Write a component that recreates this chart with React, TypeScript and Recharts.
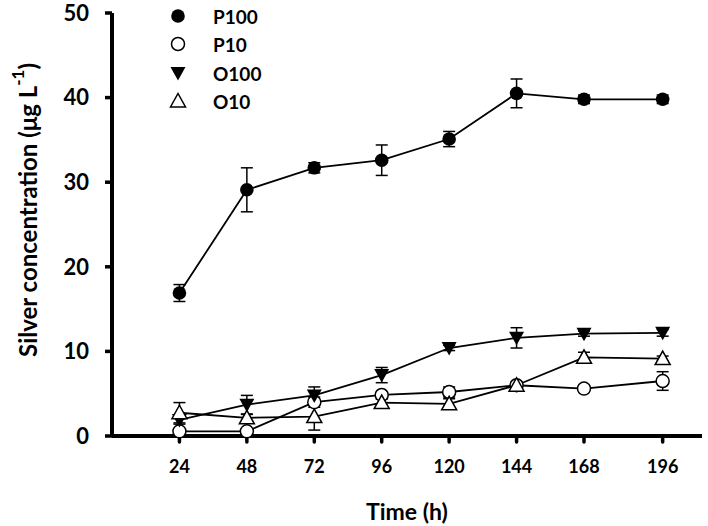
import { LineChart, Line, XAxis, YAxis, ErrorBar, Customized } from 'recharts'

// sampling times (h) and measured silver concentration (µg/L) with error
const hours = [24, 48, 72, 96, 120, 144, 168, 196]
const p100 = [16.9, 29.1, 31.7, 32.6, 35.1, 40.5, 39.8, 39.8]
const p100Err = [1.0, 2.6, 0.6, 1.8, 0.9, 1.7, 0.5, 0.5]
const p10 = [0.55, 0.55, 4.0, 4.85, 5.2, 6.0, 5.6, 6.5]
const p10Err = [0.35, 0.3, 0.6, 0.3, 0.6, 0.4, 0.4, 1.1]
const o100 = [1.9, 3.7, 4.8, 7.2, 10.4, 11.6, 12.1, 12.2]
const o100Err = [0.5, 1.1, 1.0, 0.9, 0.3, 1.2, 0.3, 0.4]
const o10 = [2.75, 2.15, 2.3, 3.95, 3.8, 6.0, 9.3, 9.15]
const o10Err = [1.2, 0.4, 1.6, 0.4, 0.6, 0.3, 0.6, 0.3]

const xTicks = [24, 48, 72, 96, 120, 144, 168, 196]
const yTicks = [0, 10, 20, 30, 40, 50]

const seriesNames = ['P100', 'P10', 'O100', 'O10']

type Shape = 'filledCircle' | 'openCircle' | 'filledDown' | 'openUp'

const SHAPES: Record<string, Shape> = {
  P100: 'filledCircle',
  P10: 'openCircle',
  O100: 'filledDown',
  O10: 'openUp',
}

const data = hours.map((h, i) => ({
  h,
  P100: p100[i],
  P100err: p100Err[i],
  P10: p10[i],
  P10err: p10Err[i],
  O100: o100[i],
  O100err: o100Err[i],
  O10: o10[i],
  O10err: o10Err[i],
}))

const FONT = 'Lato, "Open Sans", sans-serif'

function Marker({ shape, cx, cy }: { shape: Shape; cx: number; cy: number }) {
  if (cx == null || cy == null) return null
  switch (shape) {
    case 'filledCircle':
      return <circle cx={cx} cy={cy} r={6.8} fill="#000" />
    case 'openCircle':
      return <circle cx={cx} cy={cy} r={6.5} fill="#fff" stroke="#000" strokeWidth={1.5} />
    case 'filledDown':
      return (
        <polygon
          points={`${cx - 7.5},${cy - 6} ${cx + 7.5},${cy - 6} ${cx},${cy + 7.5}`}
          fill="#000"
        />
      )
    case 'openUp':
      return (
        <polygon
          points={`${cx - 7.5},${cy + 6} ${cx + 7.5},${cy + 6} ${cx},${cy - 7.5}`}
          fill="#fff"
          stroke="#000"
          strokeWidth={1.5}
        />
      )
  }
}

function YLabel() {
  return (
    <text
      x={27}
      y={210}
      transform="rotate(-90, 27, 210)"
      textAnchor="middle"
      dominantBaseline="central"
      fontFamily={FONT}
      fontWeight={700}
      fontSize={24}
      fill="#000"
    >
      Silver concentration (μg L
      <tspan fontSize={17} dy={-10}>-1</tspan>
      <tspan dy={10}>)</tspan>
    </text>
  )
}

function LegendBox() {
  const rows = [16, 44, 73, 101]
  return (
    <svg
      width={300}
      height={120}
      style={{ position: 'absolute', left: 0, top: 0, pointerEvents: 'none' }}
    >
      {seriesNames.map((name, i) => (
        <g key={name}>
          <Marker shape={SHAPES[name]} cx={178} cy={rows[i]} />
          <text
            x={213}
            y={rows[i]}
            dominantBaseline="central"
            fontFamily={FONT}
            fontWeight={700}
            fontSize={19}
            fill="#000"
          >
            {name}
          </text>
        </g>
      ))}
    </svg>
  )
}

export default function App() {
  return (
    <div style={{ position: 'absolute', left: 0, top: 0, width: 708, height: 526, background: '#fff' }}>
      <LineChart
        width={708}
        height={526}
        data={data}
        margin={{ top: 13, right: 6, left: 0, bottom: 0 }}
        style={{ fontFamily: FONT }}
      >
        <XAxis
          dataKey="h"
          type="number"
          domain={[0, 210]}
          ticks={xTicks}
          height={90}
          axisLine={{ stroke: '#000', strokeWidth: 4 }}
          tickLine={{ stroke: '#000', strokeWidth: 3.5, strokeLinecap: 'round' }}
          tickSize={6}
          tickMargin={18}
          tick={{ fontSize: 18, fontWeight: 700, fill: '#000', fontFamily: FONT }}
          label={{
            value: 'Time (h)',
            position: 'insideBottom',
            offset: 6,
            style: { fontSize: 23, fontWeight: 700, fill: '#000', fontFamily: FONT },
          }}
        />
        <YAxis
          type="number"
          domain={[0, 50]}
          ticks={yTicks}
          width={112}
          axisLine={{ stroke: '#000', strokeWidth: 4 }}
          tickLine={{ stroke: '#000', strokeWidth: 3.5 }}
          tickSize={7}
          tickMargin={16}
          tick={{ fontSize: 22, fontWeight: 700, fill: '#000', fontFamily: FONT }}
        />
        <Customized component={YLabel} />
        {seriesNames.map((name) => (
          <Line
            key={name}
            type="linear"
            dataKey={name}
            stroke="#000"
            strokeWidth={1.8}
            isAnimationActive={false}
            activeDot={false}
            dot={(p: any) => (
              <Marker key={`${name}-${p.index}`} shape={SHAPES[name]} cx={p.cx} cy={p.cy} />
            )}
          >
            <ErrorBar
              dataKey={`${name}err`}
              direction="y"
              width={6}
              stroke="#000"
              strokeWidth={1.5}
              isAnimationActive={false}
            />
          </Line>
        ))}
      </LineChart>
      <LegendBox />
    </div>
  )
}
